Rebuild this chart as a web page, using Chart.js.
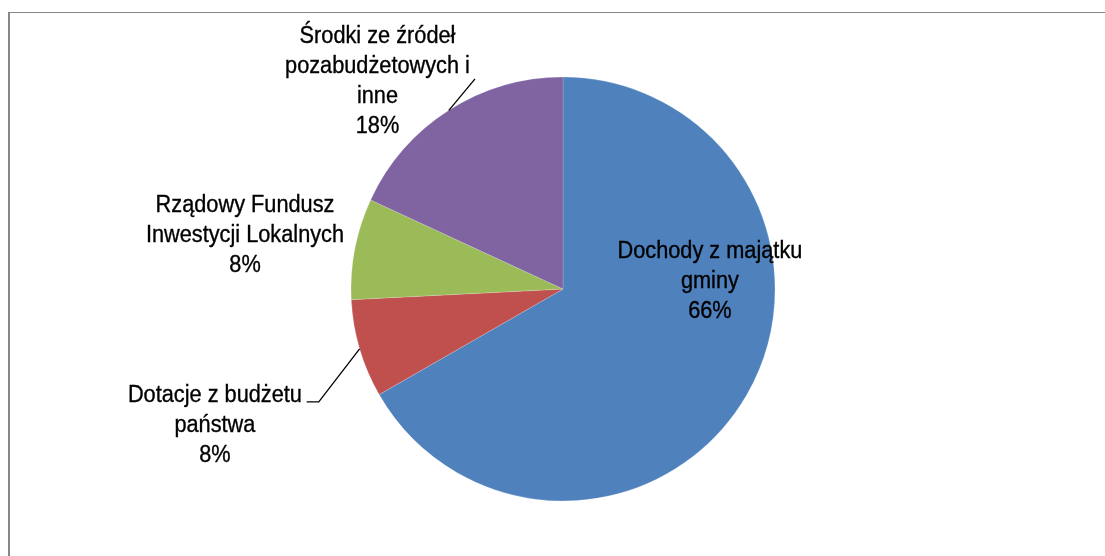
<!DOCTYPE html>
<html>
<head>
<meta charset="utf-8">
<script src="https://cdn.jsdelivr.net/npm/chart.js@4"></script>
<style>
  html, body { margin: 0; padding: 0; background: #ffffff; }
  #wrap { position: relative; width: 1105px; height: 556px; overflow: hidden; background: #fff; }
  #frame { position: absolute; left: 8px; top: 12px; width: 1200px; height: 700px;
           border-left: 2px solid #878787; border-top: 1px solid #878787; box-sizing: border-box; }
  canvas { position: absolute; left: 0; top: 0; }
</style>
</head>
<body>
<div id="wrap">
  <div id="frame"></div>
  <canvas id="c" width="1105" height="556"></canvas>
</div>
<script>
// ---- data ----
const categories = [
  ["Dochody z majątku", "gminy"],
  ["Dotacje z budżetu", "państwa"],
  ["Rządowy Fundusz", "Inwestycji Lokalnych"],
  ["Środki ze źródeł", "pozabudżetowych i", "inne"]
];
const shareValues = [66.7, 7.5, 7.7, 18.1];
const percentLabels = ["66%", "8%", "8%", "18%"];
const sliceColors = ["#4F81BD", "#C0504D", "#9BBB59", "#8064A2"];

// label placement (in units of the pie radius, relative to the pie centre)
const labelLayout = [
  { cx: 0.693, base: -0.146, leader: null },
  { cx: -1.642, base: 0.535, leader: [[-1.152, 0.532], [-1.209, 0.532]] },
  { cx: -1.50, base: -0.363, leader: null },
  { cx: -0.875, base: -1.159, leader: [[-0.415, -0.991]] }
];

const FONT_PX = 23.5;
const LINE_H = 30;
const SCALE_X = 0.925;

const labelPlugin = {
  id: 'pieLabels',
  afterDatasetsDraw(chart) {
    const ctx = chart.ctx;
    const meta = chart.getDatasetMeta(0);
    meta.data.forEach((arc, i) => {
      const p = arc.getProps(['x', 'y', 'outerRadius', 'startAngle', 'endAngle'], true);
      const R = p.outerRadius;
      const L = labelLayout[i];
      // leader line
      if (L.leader) {
        const mid = (p.startAngle + p.endAngle) / 2;
        ctx.save();
        ctx.strokeStyle = '#000';
        ctx.lineWidth = 1.3;
        ctx.beginPath();
        ctx.moveTo(p.x + Math.cos(mid) * R, p.y + Math.sin(mid) * R);
        L.leader.forEach(pt => ctx.lineTo(p.x + pt[0] * R, p.y + pt[1] * R));
        ctx.stroke();
        ctx.restore();
      }
      // text
      const lines = categories[i].concat([percentLabels[i]]);
      const cx = p.x + L.cx * R;
      const by = p.y + L.base * R;
      ctx.save();
      ctx.fillStyle = '#000';
      ctx.strokeStyle = '#000';
      ctx.lineWidth = 0.35;
      ctx.font = FONT_PX + 'px "Liberation Sans", Arial, sans-serif';
      ctx.textAlign = 'center';
      ctx.textBaseline = 'alphabetic';
      lines.forEach((t, k) => {
        ctx.save();
        ctx.translate(cx, by + k * LINE_H);
        ctx.scale(SCALE_X, 1);
        ctx.fillText(t, 0, 0);
        ctx.strokeText(t, 0, 0);
        ctx.restore();
      });
      ctx.restore();
    });
  }
};

new Chart(document.getElementById('c'), {
  type: 'pie',
  data: {
    labels: categories.map(c => c.join(' ')),
    datasets: [{
      data: shareValues,
      backgroundColor: sliceColors,
      borderColor: 'rgba(255,255,255,0.35)',
      borderWidth: 0.5
    }]
  },
  options: {
    responsive: false,
    animation: false,
    devicePixelRatio: 1,
    radius: 212,
    rotation: 0,
    layout: { padding: { left: 21, right: 0, top: 22, bottom: 0 } },
    plugins: {
      legend: { display: false },
      tooltip: { enabled: false },
      title: { display: false }
    }
  },
  plugins: [labelPlugin]
});
</script>
</body>
</html>
